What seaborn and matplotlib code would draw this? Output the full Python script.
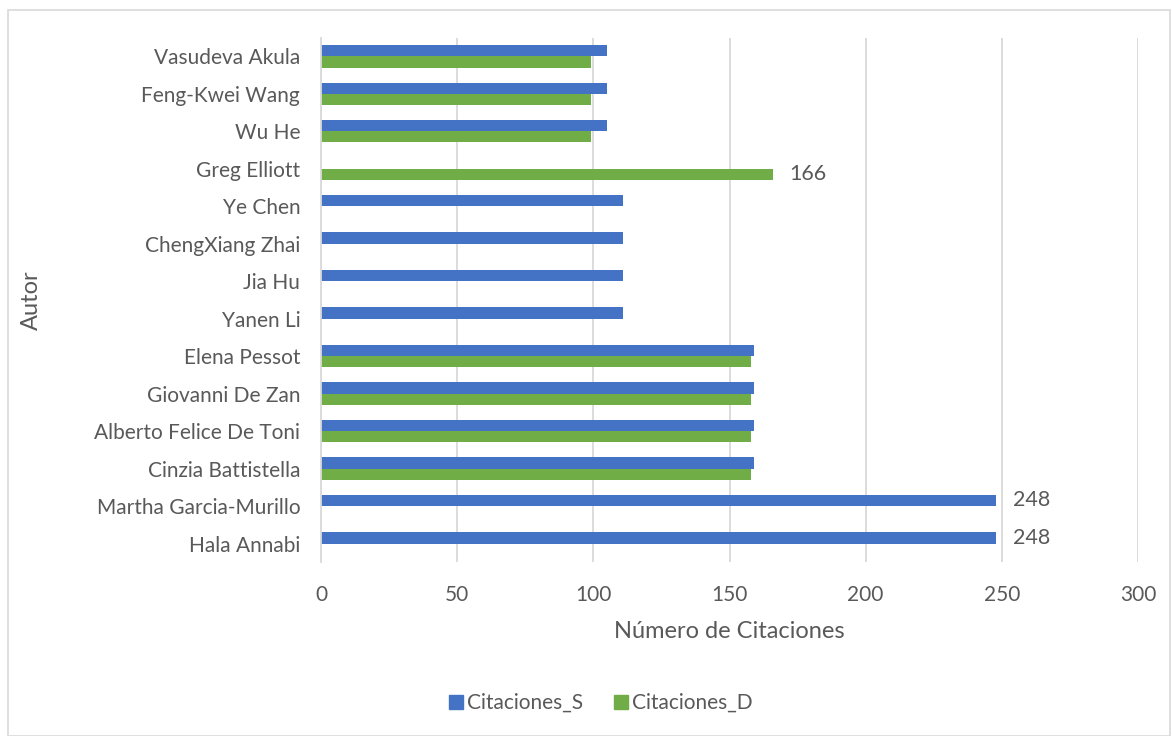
import matplotlib
matplotlib.use("Agg")
import matplotlib.pyplot as plt
from matplotlib.patches import Rectangle
from matplotlib.lines import Line2D
import seaborn as sns
import pandas as pd

# Authors listed from top to bottom of the chart
autores = [
    "Vasudeva Akula", "Feng-Kwei Wang", "Wu He", "Greg Elliott", "Ye Chen",
    "ChengXiang Zhai", "Jia Hu", "Yanen Li", "Elena Pessot", "Giovanni De Zan",
    "Alberto Felice De Toni", "Cinzia Battistella", "Martha Garcia-Murillo",
    "Hala Annabi",
]
citaciones_s = [105, 105, 105, 0, 111, 111, 111, 111, 159, 159, 159, 159, 248, 248]
citaciones_d = [99, 99, 99, 166, 0, 0, 0, 0, 158, 158, 158, 158, 0, 0]
series = ["Citaciones_S", "Citaciones_D"]
# Values written next to the bars
etiquetas_s = ["", "", "", "", "", "", "", "", "", "", "", "", "248", "248"]
etiquetas_d = ["", "", "", "166", "", "", "", "", "", "", "", "", "", ""]
x_ticks = [0, 50, 100, 150, 200, 250, 300]

BLUE = "#4472C4"
GREEN = "#70AD47"
TEXT = "#595959"
GRID = "#D9D9D9"

df = pd.DataFrame({
    "Autor": autores * 2,
    "Serie": [series[0]] * len(autores) + [series[1]] * len(autores),
    "Valor": citaciones_s + citaciones_d,
})

sns.set_theme(style="whitegrid")
plt.rcParams["font.family"] = ["Lato", "DejaVu Sans"]

fig = plt.figure(figsize=(11.72, 7.36), dpi=100)
ax = fig.add_axes([0.2739, 0.236, 0.6971, 0.713])

sns.barplot(
    data=df, y="Autor", x="Valor", hue="Serie", order=autores,
    hue_order=series, palette=[BLUE, GREEN], orient="h", saturation=1,
    width=0.6, linewidth=0, ax=ax, legend=False,
)

ax.bar_label(ax.containers[0], labels=etiquetas_s, padding=12,
             fontsize=15.5, color=TEXT)
ax.bar_label(ax.containers[1], labels=etiquetas_d, padding=12,
             fontsize=15.5, color=TEXT)

ax.set_xlim(0, 300)
ax.set_xticks(x_ticks)
ax.set_ylim(len(autores) - 0.5, -0.5)
ax.grid(axis="x", color=GRID, linewidth=1.3)
ax.grid(axis="y", visible=False)
for s in ["top", "right", "bottom"]:
    ax.spines[s].set_visible(False)
ax.spines["left"].set_color(GRID)
ax.spines["left"].set_linewidth(1.3)
ax.set_facecolor("white")
ax.tick_params(axis="both", length=0, labelsize=15, labelcolor=TEXT)
ax.tick_params(axis="x", pad=16)
ax.tick_params(axis="y", pad=15)
ax.set_xlabel("Número de Citaciones", fontsize=17, color=TEXT, labelpad=12)
ax.set_ylabel("Autor", fontsize=17, color=TEXT, labelpad=38)

handles = [
    Line2D([], [], marker="s", linestyle="none", markersize=10,
           markerfacecolor=BLUE, markeredgecolor=BLUE),
    Line2D([], [], marker="s", linestyle="none", markersize=10,
           markerfacecolor=GREEN, markeredgecolor=GREEN),
]
leg = fig.legend(handles, series, loc="center", bbox_to_anchor=(0.511, 0.045),
                 ncol=2, frameon=False, fontsize=15, handletextpad=0.05,
                 columnspacing=1.3, handlelength=1.0)
for t in leg.get_texts():
    t.set_color(TEXT)

# Light border around the chart area
fig.patches.append(Rectangle((0.007, 0.0), 0.991, 0.986, transform=fig.transFigure,
                             fill=False, edgecolor=GRID, linewidth=1.2))

fig.savefig("out.png", dpi=100, facecolor="white")
